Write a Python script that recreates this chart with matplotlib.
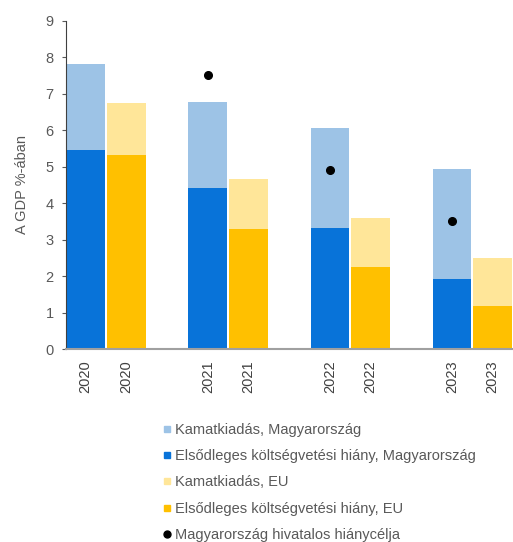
import matplotlib.pyplot as plt
from matplotlib.lines import Line2D

plt.rcParams['font.family'] = ['Liberation Sans', 'DejaVu Sans']

# Data values
labels = ["2020", "2020", "2021", "2021", "2022", "2022", "2023", "2023"]
slots = [0, 1, 3, 4, 6, 7, 9, 10]
hu_primary = [5.45, 4.42, 3.32, 1.91]
hu_interest = [2.37, 2.36, 2.74, 3.01]
eu_primary = [5.33, 3.30, 2.24, 1.18]
eu_interest = [1.42, 1.37, 1.34, 1.32]
hu_target = [None, 7.5, 4.9, 3.5]

c_light_blue = "#9dc3e6"
c_blue = "#0873d9"
c_light_gold = "#ffe699"
c_gold = "#ffc000"
grey = "#595959"

fig = plt.figure(figsize=(5.13, 5.42), dpi=100)
ax = fig.add_axes([0.129, 0.356, 0.871, 0.606])

hu_x = slots[0::2]
eu_x = slots[1::2]
w = 0.95
ax.bar(hu_x, hu_primary, width=w, color=c_blue)
ax.bar(hu_x, hu_interest, width=w, bottom=hu_primary, color=c_light_blue)
ax.bar(eu_x, eu_primary, width=w, color=c_gold)
ax.bar(eu_x, eu_interest, width=w, bottom=eu_primary, color=c_light_gold)

tx = [x for x, t in zip(hu_x, hu_target) if t is not None]
ty = [t for t in hu_target if t is not None]
ax.plot(tx, ty, 'o', color='black', markersize=5.5, linestyle='none')

ax.set_xlim(-0.48, 10.5)
ax.set_ylim(0, 9)
ax.set_yticks(range(10))
ax.set_xticks(slots)
ax.set_xticklabels(labels, rotation=90, fontsize=10.5)
ax.tick_params(axis='y', labelsize=10.5, colors=grey, length=3, direction='out', pad=6)
ax.tick_params(axis='x', length=0, pad=8, labelcolor='#404040')
ax.set_ylabel("A GDP %-ában", fontsize=10.5, color=grey, labelpad=12)

for s in ['top', 'right']:
    ax.spines[s].set_visible(False)
ax.spines['left'].set_color('#404040')
ax.spines['bottom'].set_color('#a0a0a0')
ax.spines['bottom'].set_linewidth(1.5)

# Legend
handles = [
    Line2D([], [], marker='s', color=c_light_blue, linestyle='none', markersize=5),
    Line2D([], [], marker='s', color=c_blue, linestyle='none', markersize=5),
    Line2D([], [], marker='s', color=c_light_gold, linestyle='none', markersize=5),
    Line2D([], [], marker='s', color=c_gold, linestyle='none', markersize=5),
    Line2D([], [], marker='o', color='black', linestyle='none', markersize=5),
]
names = [
    "Kamatkiadás, Magyarország",
    "Elsődleges költségvetési hiány, Magyarország",
    "Kamatkiadás, EU",
    "Elsődleges költségvetési hiány, EU",
    "Magyarország hivatalos hiánycélja",
]
leg = fig.legend(handles, names, loc='upper left', bbox_to_anchor=(0.305, 0.231),
                 frameon=False, fontsize=10.5, handlelength=0.6, handletextpad=0.3,
                 labelspacing=0.85, borderaxespad=0)
for t in leg.get_texts():
    t.set_color(grey)

plt.savefig("out.png", dpi=100)
